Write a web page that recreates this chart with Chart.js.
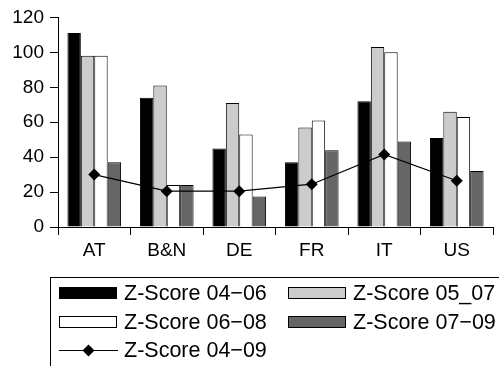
<!DOCTYPE html>
<html>
<head>
<meta charset="utf-8">
<script src="https://cdn.jsdelivr.net/npm/chart.js@4/dist/chart.umd.min.js"></script>
<style>
  html, body { margin: 0; padding: 0; background: #fff; }
  #wrap { width: 499px; height: 366px; }
</style>
</head>
<body>
<div id="wrap"><canvas id="zChart"></canvas></div>
<script>
var countries = ['AT', 'B&N', 'DE', 'FR', 'IT', 'US'];
var z0406 = [111, 74, 45, 37, 72, 51];
var z0507 = [98, 81, 71, 57, 103, 66];
var z0608 = [98, 24, 53, 61, 100, 63];
var z0709 = [37, 24, 17.5, 44, 49, 32];
var z0409 = [30, 20.5, 20.5, 24.5, 41.5, 26.5];
var yTicks = [0, 20, 40, 60, 80, 100, 120];

var FONT = '"Liberation Sans", Arial, sans-serif';

// boxed legend, two columns, clipped at the right/bottom like the original
var boxLegend = {
  id: 'boxLegend',
  afterDraw: function (chart) {
    var ctx = chart.ctx;
    var ds = chart.data.datasets;
    ctx.save();
    ctx.strokeStyle = '#000';
    ctx.lineWidth = 1;
    ctx.strokeRect(50.5, 277.5, 500, 120);

    var slots = [
      { x: 59, y: 293 }, { x: 288, y: 293 },
      { x: 59, y: 322 }, { x: 288, y: 322 },
      { x: 59, y: 350 }
    ];
    ctx.font = '21.5px ' + FONT;
    ctx.textBaseline = 'middle';
    ds.forEach(function (d, i) {
      var s = slots[i];
      if (d.type === 'line') {
        ctx.strokeStyle = '#000';
        ctx.beginPath();
        ctx.moveTo(s.x, s.y + 0.5);
        ctx.lineTo(s.x + 59, s.y + 0.5);
        ctx.stroke();
        var cx = s.x + 29.5, cy = s.y + 0.5, r = 6;
        ctx.fillStyle = '#000';
        ctx.beginPath();
        ctx.moveTo(cx, cy - r);
        ctx.lineTo(cx + r, cy);
        ctx.lineTo(cx, cy + r);
        ctx.lineTo(cx - r, cy);
        ctx.closePath();
        ctx.fill();
      } else {
        ctx.fillStyle = d.backgroundColor;
        ctx.fillRect(s.x + 0.5, s.y - 5.5, 57, 11);
        ctx.strokeStyle = '#000';
        ctx.strokeRect(s.x + 0.5, s.y - 5.5, 57, 11);
      }
      ctx.fillStyle = '#000';
      ctx.fillText(d.label, s.x + 65, s.y + 1);
    });
    ctx.restore();
  }
};

function bar(label, values, color) {
  return {
    label: label,
    data: values,
    backgroundColor: color,
    borderColor: '#000',
    borderWidth: 1,
    borderSkipped: 'bottom',
    categoryPercentage: 0.74,
    barPercentage: 1.0,
    order: 2
  };
}

new Chart(document.getElementById('zChart'), {
  type: 'bar',
  data: {
    labels: countries,
    datasets: [
      bar('Z-Score 04\u221206', z0406, '#000000'),
      bar('Z-Score 05_07', z0507, '#cccccc'),
      bar('Z-Score 06\u221208', z0608, '#ffffff'),
      bar('Z-Score 07\u221209', z0709, '#666666'),
      {
        type: 'line',
        label: 'Z-Score 04\u221209',
        data: z0409,
        borderColor: '#000',
        borderWidth: 1.2,
        backgroundColor: '#000',
        pointStyle: 'rectRot',
        pointRadius: 6,
        pointBorderWidth: 0,
        tension: 0,
        order: 1
      }
    ]
  },
  options: {
    responsive: true,
    maintainAspectRatio: false,
    animation: false,
    layout: { padding: { left: 0, right: 1, top: 13, bottom: 104 } },
    plugins: {
      legend: { display: false },
      tooltip: { enabled: false }
    },
    scales: {
      x: {
        offset: true,
        afterFit: function (s) { s.height = 35; },
        grid: {
          offset: true,
          drawOnChartArea: false,
          color: '#000',
          tickLength: 8,
          tickWidth: 1
        },
        border: { color: '#000', width: 1 },
        ticks: { color: '#000', padding: 4, font: { family: FONT, size: 19 } }
      },
      y: {
        min: 0,
        max: 120,
        afterFit: function (s) { s.width = 58; },
        afterBuildTicks: function (s) {
          s.ticks = yTicks.map(function (v) { return { value: v }; });
        },
        grid: {
          drawOnChartArea: false,
          color: '#000',
          tickLength: 8,
          tickWidth: 1
        },
        border: { color: '#000', width: 1 },
        ticks: { color: '#000', padding: 6, font: { family: FONT, size: 19 } }
      }
    }
  },
  plugins: [boxLegend]
});
</script>
</body>
</html>
